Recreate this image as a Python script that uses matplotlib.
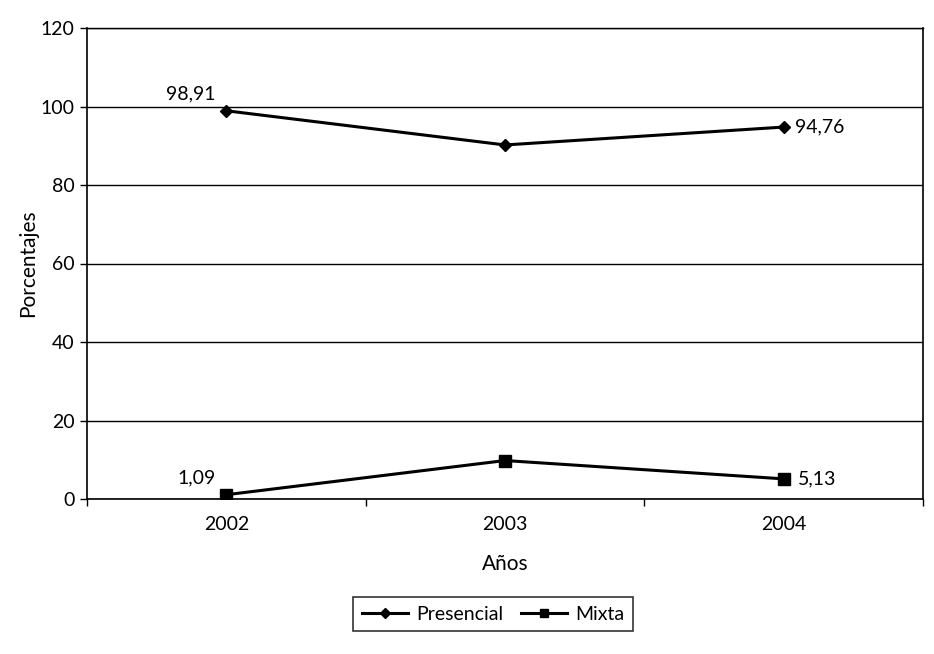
import matplotlib
matplotlib.use("Agg")
import matplotlib.pyplot as plt

plt.rcParams['font.family'] = ['Lato', 'DejaVu Sans']

years = ["2002", "2003", "2004"]
presencial = [98.91, 90.2, 94.76]
mixta = [1.09, 9.8, 5.13]
presencial_labels = {0: "98,91", 2: "94,76"}
mixta_labels = {0: "1,09", 2: "5,13"}
yticks = [0, 20, 40, 60, 80, 100, 120]

fig = plt.figure(figsize=(9.34, 6.54), dpi=100)
ax = fig.add_axes([87/934, 1-499/654, (923-87)/934, (499-28)/654])

x = list(range(len(years)))
ax.plot(x, presencial, color="black", lw=2.2, marker="D", ms=6, label="Presencial", zorder=3)
ax.plot(x, mixta, color="black", lw=2.2, marker="s", ms=8, label="Mixta", zorder=3)

ax.set_xlim(-0.5, 2.5)
ax.set_ylim(0, 120)
ax.set_yticks(yticks)
ax.set_yticklabels([str(v) for v in yticks], fontsize=14)
ax.yaxis.grid(True, color="black", lw=1)
ax.set_axisbelow(True)

ax.set_xticks(x)
ax.set_xticklabels(years, fontsize=14)
ax.set_xticks([-0.5, 0.5, 1.5, 2.5], minor=True)
ax.tick_params(axis="x", which="major", length=0, pad=12)
ax.tick_params(axis="x", which="minor", length=5, direction="out", width=1)
ax.tick_params(axis="y", length=5, direction="out", width=1, pad=4)

for s in ["left", "right", "top", "bottom"]:
    ax.spines[s].set_linewidth(1.2)
ax.spines["top"].set_linewidth(1.0)

for i, t in presencial_labels.items():
    if i == 0:
        ax.annotate(t, (i, presencial[i]), xytext=(-8, 6), textcoords="offset points",
                    ha="right", va="bottom", fontsize=14)
    else:
        ax.annotate(t, (i, presencial[i]), xytext=(8, 0), textcoords="offset points",
                    ha="left", va="center", fontsize=14)
for i, t in mixta_labels.items():
    if i == 0:
        ax.annotate(t, (i, mixta[i]), xytext=(-8, 6), textcoords="offset points",
                    ha="right", va="bottom", fontsize=14)
    else:
        ax.annotate(t, (i, mixta[i]), xytext=(10, 0), textcoords="offset points",
                    ha="left", va="center", fontsize=14)

ax.set_ylabel("Porcentajes", fontsize=15, labelpad=1.5)
ax.set_xlabel("Años", fontsize=15, labelpad=15)

leg = fig.legend(loc="center", bbox_to_anchor=(493/934, 1-614/654), ncol=2, fontsize=14,
                 frameon=True, fancybox=False, edgecolor="black", handlelength=2.4,
                 columnspacing=0.9, handletextpad=0.4, borderpad=0.45, markerscale=0.8)
leg.get_frame().set_linewidth(1.2)

fig.savefig("out.png", dpi=100)
